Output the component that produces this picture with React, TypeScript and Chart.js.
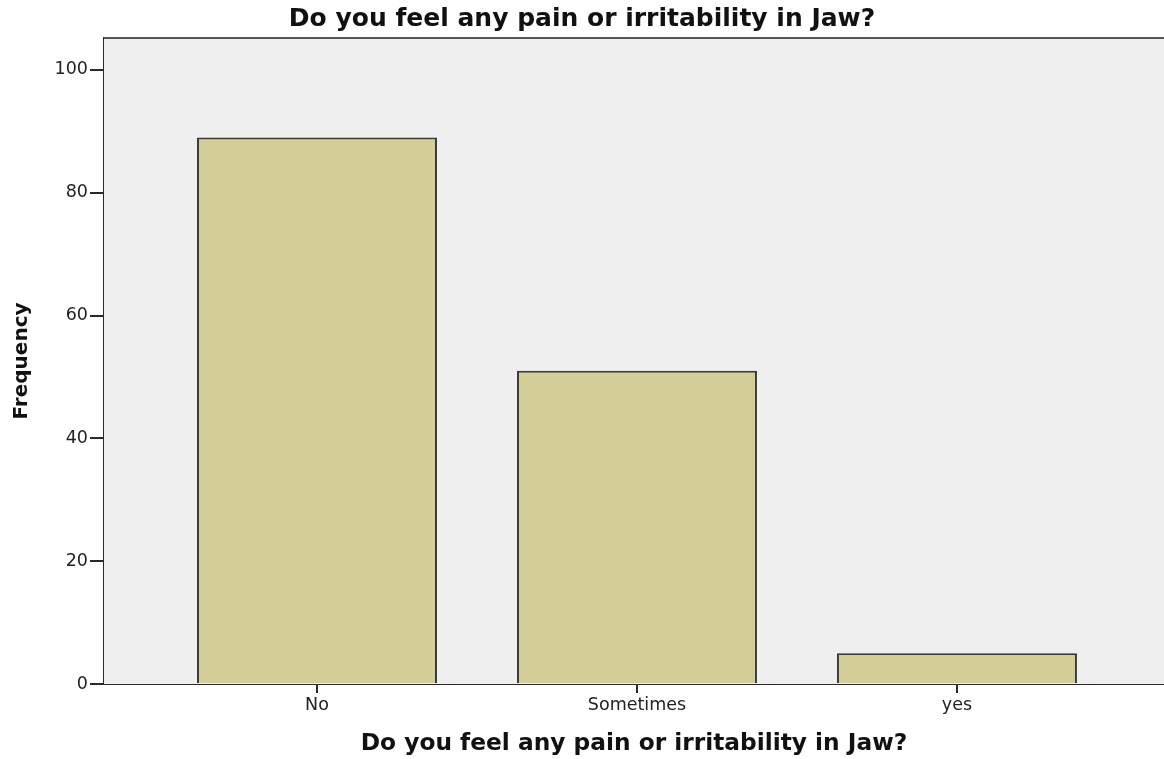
import React, { useEffect, useRef } from "react";
import { Chart, registerables } from "chart.js";

Chart.register(...registerables);

const categories = ["No", "Sometimes", "yes"];
const frequencies = [89, 51, 5];
const yTicks = [0, 20, 40, 60, 80, 100];
const chartTitle = "Do you feel any pain or irritability in Jaw?";
const xAxisTitle = "Do you feel any pain or irritability in Jaw?";
const yAxisTitle = "Frequency";

const plotBackground = {
  id: "plotBackground",
  beforeDatasetsDraw(chart: any) {
    const { ctx, chartArea } = chart;
    ctx.save();
    ctx.fillStyle = "#efefef";
    ctx.fillRect(chartArea.left, chartArea.top, chartArea.right - chartArea.left, chartArea.bottom - chartArea.top);
    ctx.strokeStyle = "#555555";
    ctx.lineWidth = 2;
    ctx.beginPath();
    ctx.moveTo(chartArea.left, chartArea.top);
    ctx.lineTo(chartArea.right, chartArea.top);
    ctx.stroke();
    ctx.restore();
  },
};

export default function App() {
  const canvasRef = useRef<HTMLCanvasElement | null>(null);

  useEffect(() => {
    const canvas = canvasRef.current;
    if (!canvas) return;
    const chart = new Chart(canvas, {
      type: "bar",
      data: {
        datasets: [
          {
            data: frequencies.map((v, i) => ({ x: i, y: v })),
            backgroundColor: "#d3cd98",
            borderColor: "#3a3a3a",
            borderWidth: 2,
            barPercentage: 0.75,
            categoryPercentage: 1,
          },
        ],
      },
      options: {
        responsive: false,
        animation: false,
        layout: { padding: 0 },
        plugins: {
          legend: { display: false },
          tooltip: { enabled: false },
          title: {
            display: true,
            text: chartTitle,
            color: "#111111",
            font: { family: "DejaVu Sans", size: 25, weight: "bold", lineHeight: 1.2 },
            padding: { top: 4, bottom: 4 },
          },
        },
        scales: {
          x: {
            type: "linear",
            offset: false,
            min: -0.6656,
            max: 2.647,
            afterBuildTicks(scale: any) {
              scale.ticks = categories.map((_, i) => ({ value: i }));
            },
            afterFit(scale: any) {
              scale.height = 75;
            },
            ticks: {
              callback: (v: any) => categories[v] ?? "",
              color: "#222222",
              font: { family: "DejaVu Sans", size: 17.5 },
              padding: 2,
              maxRotation: 0,
              autoSkip: false,
            },
            grid: {
              display: true,
              offset: false,
              drawOnChartArea: false,
              drawTicks: true,
              tickLength: 9,
              color: "#2a2a2a",
              lineWidth: 2,
            },
            border: { display: true, color: "#2a2a2a", width: 2 },
            title: {
              display: true,
              text: xAxisTitle,
              color: "#111111",
              font: { family: "DejaVu Sans", size: 23.3, weight: "bold", lineHeight: 1.2 },
              padding: { top: 0, bottom: 1 },
            },
          },
          y: {
            type: "linear",
            min: 0,
            max: 105.2,
            afterBuildTicks(scale: any) {
              scale.ticks = yTicks.map((v) => ({ value: v }));
            },
            afterFit(scale: any) {
              scale.width = 104;
            },
            ticks: {
              color: "#222222",
              font: { family: "DejaVu Sans", size: 17.5 },
              padding: 2,
            },
            grid: {
              display: true,
              drawOnChartArea: false,
              drawTicks: true,
              tickLength: 14,
              color: "#2a2a2a",
              lineWidth: 2,
            },
            border: { display: true, color: "#2a2a2a", width: 2 },
            title: {
              display: true,
              text: yAxisTitle,
              color: "#111111",
              font: { family: "DejaVu Sans", size: 20, weight: "bold", lineHeight: 1.2 },
              padding: { top: 10, bottom: 0 },
            },
          },
        },
      },
      plugins: [plotBackground],
    });
    return () => chart.destroy();
  }, []);

  return (
    <div style={{ position: "absolute", left: 0, top: 0, width: 1164, height: 759, background: "#ffffff" }}>
      <canvas ref={canvasRef} width={1164} height={759} style={{ display: "block" }} />
    </div>
  );
}
